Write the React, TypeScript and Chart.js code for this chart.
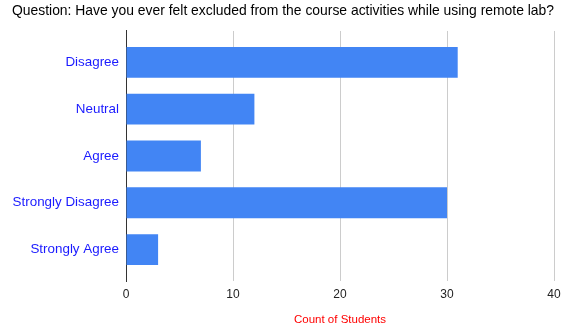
import React, { useEffect, useRef } from "react";
import { Chart, registerables } from "chart.js";

Chart.register(...registerables);

const categories = ["Disagree", "Neutral", "Agree", "Strongly Disagree", "Strongly Agree"];
const counts = [31, 12, 7, 30, 3];
const xTicks = [0, 10, 20, 30, 40];
const chartTitle = "Question: Have you ever felt excluded from the course activities while using remote lab?";
const xAxisTitle = "Count of Students";

const FONT = "'Liberation Sans', Arial, sans-serif";

export default function App() {
  const ref = useRef<HTMLCanvasElement | null>(null);

  useEffect(() => {
    if (!ref.current) return;
    const chart = new Chart(ref.current, {
      type: "bar",
      data: {
        datasets: [
          {
            label: xAxisTitle,
            data: counts.map((v, i) => ({ x: v, y: i })),
            backgroundColor: "#4285f4",
            borderWidth: 0,
            barPercentage: 0.66,
            categoryPercentage: 1,
          },
        ],
      },
      options: {
        indexAxis: "y",
        responsive: false,
        animation: false,
        layout: { padding: { left: 12, right: 9, top: 0, bottom: 0 } },
        plugins: {
          legend: { display: false },
          tooltip: { enabled: false },
          title: {
            display: true,
            text: chartTitle,
            align: "start",
            color: "#000000",
            font: { family: FONT, size: 13.9, weight: "normal", lineHeight: 1.2 },
            padding: { top: 3, bottom: 11.3 },
          },
        },
        scales: {
          x: {
            type: "linear",
            min: xTicks[0],
            max: xTicks[xTicks.length - 1],
            afterBuildTicks: (scale: any) => {
              scale.ticks = xTicks.map((v) => ({ value: v }));
            },
            afterFit: (scale: any) => {
              scale.height = 46;
              scale.paddingLeft = 0;
              scale.paddingRight = 0;
            },
            grid: { color: "#cccccc", lineWidth: 1, drawTicks: false },
            border: { display: false },
            ticks: {
              color: "#222222",
              font: { family: FONT, size: 12 },
              padding: 6,
            },
            title: {
              display: true,
              text: xAxisTitle,
              color: "#ff0000",
              font: { family: FONT, size: 11.5 },
              padding: 0,
            },
          },
          y: {
            type: "linear",
            reverse: true,
            offset: false,
            bounds: "data",
            min: -0.67,
            max: categories.length - 1 + 0.67,
            afterBuildTicks: (scale: any) => {
              scale.ticks = categories.map((_, i) => ({ value: i }));
            },
            afterFit: (scale: any) => {
              scale.width = 114;
              scale.paddingTop = 0;
              scale.paddingBottom = 0;
            },
            grid: { display: false, drawTicks: false, offset: false },
            border: { display: true, color: "#333333", width: 1 },
            ticks: {
              color: "#1a1aff",
              font: { family: FONT, size: 13.4 },
              padding: 7,
              autoSkip: false,
              callback: (value: any) => {
                const i = Number(value);
                return Number.isInteger(i) && categories[i] !== undefined ? categories[i] : "";
              },
            },
          },
        },
      },
    });
    return () => chart.destroy();
  }, []);

  return (
    <div style={{ position: "absolute", left: 0, top: 0, width: 563, height: 327 }}>
      <canvas ref={ref} width={563} height={327} style={{ display: "block" }} />
    </div>
  );
}
